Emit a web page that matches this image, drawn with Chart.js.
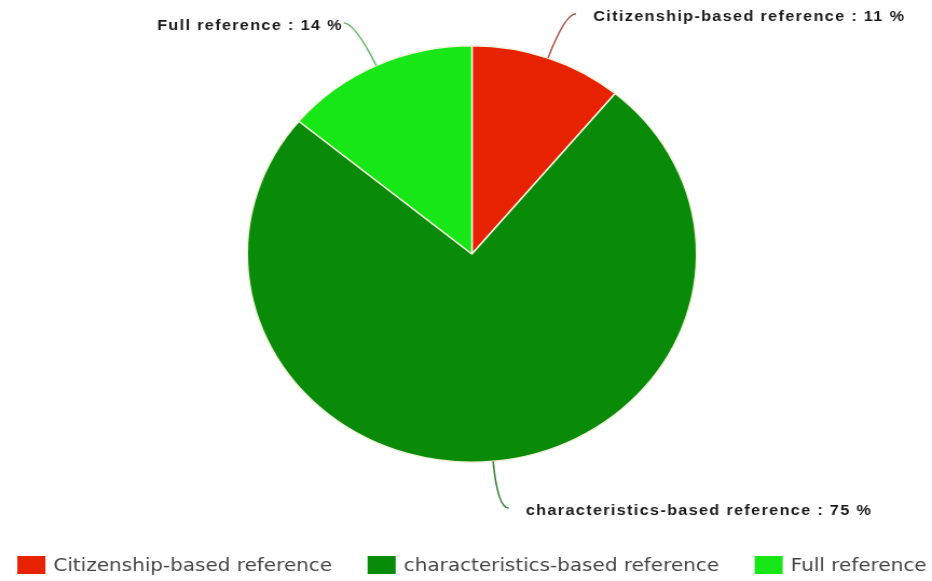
<!DOCTYPE html>
<html>
<head>
<meta charset="utf-8">
<script src="https://cdn.jsdelivr.net/npm/chart.js@4.4.1/dist/chart.umd.min.js"></script>
<style>
  html, body { margin: 0; padding: 0; background: #fff; overflow: hidden; }
  #wrap { width: 864px; height: 581px; transform: scaleX(1.0787); transform-origin: 0 0; }
</style>
</head>
<body>
<div id="wrap"><canvas id="c" width="864" height="581"></canvas></div>
<script>
const categories = ['Citizenship-based reference', 'characteristics-based reference', 'Full reference'];
const shares = [11, 75, 14];
const sliceColors = ['#e62200', '#098a09', '#17e617'];
const leaderColors = ['#a5524a', '#2f7d2f', '#66b866'];

// Callout labels: a curved leader from each slice's outer edge to "name : value %"
const calloutPlugin = {
  id: 'callouts',
  afterDatasetsDraw(chart) {
    const ctx = chart.ctx;
    const meta = chart.getDatasetMeta(0);
    ctx.save();
    ctx.font = 'bold 15px "Liberation Sans", Arial, sans-serif';
    ctx.letterSpacing = '1.25px';
    ctx.textBaseline = 'middle';
    meta.data.forEach((arc, i) => {
      const p = arc.getProps(['x', 'y', 'startAngle', 'endAngle', 'outerRadius'], true);
      const mid = (p.startAngle + p.endAngle) / 2;
      const dx = Math.cos(mid), dy = Math.sin(mid);
      const x0 = p.x + dx * p.outerRadius, y0 = p.y + dy * p.outerRadius;
      const x1 = x0 + dx * 47, y1 = y0 + dy * 47;
      const right = dx >= 0;
      const x2 = x1 + (right ? 10 : -10);
      ctx.strokeStyle = leaderColors[i];
      ctx.lineWidth = 1.5;
      ctx.beginPath();
      ctx.moveTo(x0, y0);
      ctx.quadraticCurveTo(x1, y1, x2, y1);
      ctx.stroke();
      const label = categories[i] + ' : ' + shares[i] + ' %';
      ctx.fillStyle = '#1a1a1a';
      ctx.textAlign = right ? 'left' : 'right';
      ctx.fillText(label, right ? x2 + 16 : x2 - 1, y1 + 3);
    });
    ctx.restore();
  }
};

// Single-row legend along the bottom edge
const bottomLegend = {
  id: 'bottomLegend',
  afterDraw(chart) {
    const ctx = chart.ctx;
    const boxW = 26, boxH = 18, textGap = 7.5, itemGap = 33;
    const top = 556;
    ctx.save();
    ctx.font = '18.5px "DejaVu Sans", sans-serif';
    ctx.textBaseline = 'middle';
    ctx.textAlign = 'left';
    const widths = categories.map(t => ctx.measureText(t).width);
    const total = widths.reduce((s, w) => s + boxW + textGap + w, 0) + itemGap * (categories.length - 1);
    let x = (chart.chartArea.left + chart.chartArea.right) / 2 - total / 2;
    categories.forEach((t, i) => {
      ctx.fillStyle = sliceColors[i];
      ctx.fillRect(x, top, boxW, boxH);
      ctx.fillStyle = '#444';
      ctx.fillText(t, x + boxW + textGap, top + boxH / 2 + 1.5);
      x += boxW + textGap + widths[i] + itemGap;
    });
    ctx.restore();
  }
};

new Chart(document.getElementById('c'), {
  type: 'pie',
  data: {
    labels: categories,
    datasets: [{
      data: shares,
      backgroundColor: sliceColors,
      borderColor: '#f2f2dc',
      borderWidth: 1.5
    }]
  },
  options: {
    responsive: false,
    devicePixelRatio: 1,
    animation: false,
    layout: { padding: { top: 45, left: 11, right: 0, bottom: 118 } },
    plugins: {
      tooltip: { enabled: false },
      legend: { display: false }
    }
  },
  plugins: [calloutPlugin, bottomLegend]
});
</script>
</body>
</html>
